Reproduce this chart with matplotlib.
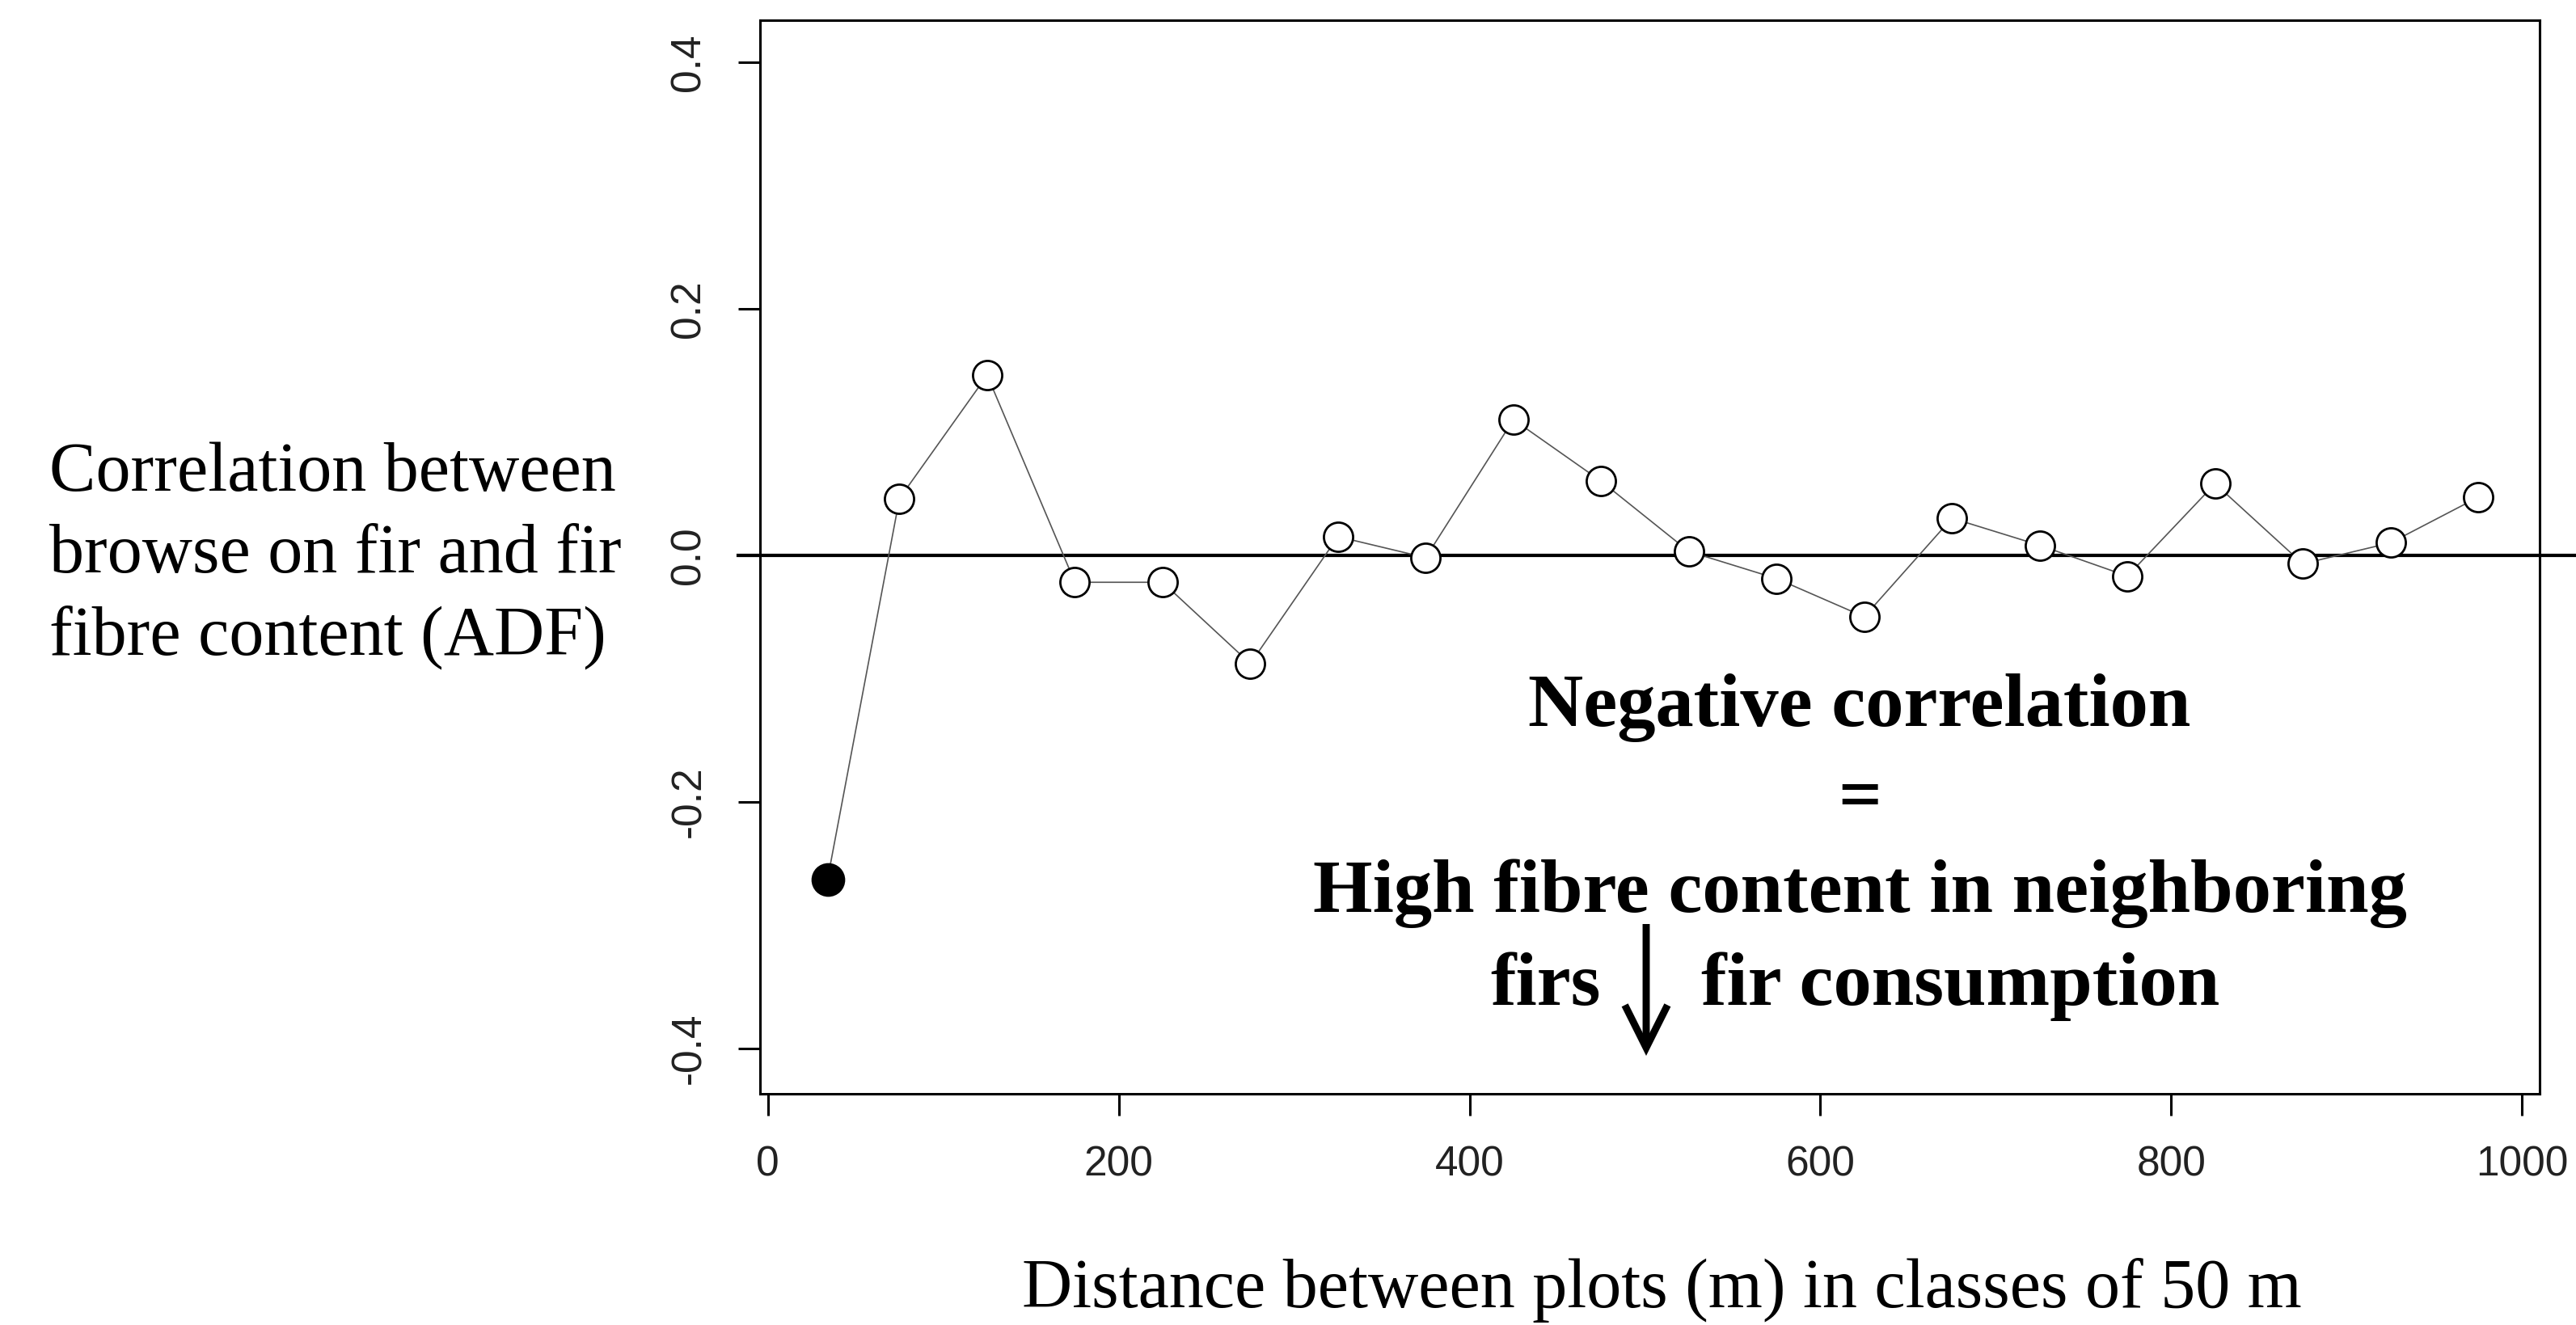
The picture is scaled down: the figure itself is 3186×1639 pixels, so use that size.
import numpy as np
import matplotlib.pyplot as plt
from matplotlib.patches import FancyArrowPatch
from matplotlib.ticker import FixedLocator, FixedFormatter

# distance class centres (m) and correlation per class
distance = [34, 75, 125, 175, 225, 275, 325, 375, 425, 475,
            525, 575, 625, 675, 725, 775, 825, 875, 925, 975]
correlation = [-0.263, 0.046, 0.146, -0.022, -0.022, -0.088, 0.015, -0.002, 0.110, 0.060,
               0.003, -0.019, -0.050, 0.030, 0.008, -0.017, 0.058, -0.007, 0.010, 0.047]
significant = [True] + [False] * 19

x_ticks = [0, 200, 400, 600, 800, 1000]
y_ticks = [-0.4, -0.2, 0.0, 0.2, 0.4]
y_tick_labels = ["-0.4", "-0.2", "0.0", "0.2", "0.4"]

ylabel_lines = ["Correlation between", "browse on fir and fir", "fibre content (ADF)"]
xlabel = "Distance between plots (m) in classes of 50 m"
note_lines = ["Negative correlation", "=", "High fibre content in neighboring"]


def main():
  plt.rcParams['axes.unicode_minus'] = False
  W, H, dpi = 3186, 1639, 200
  fig = plt.figure(figsize=(W / dpi, H / dpi), dpi=dpi)
  ax = fig.add_axes([940 / W, 1 - 1353 / H, 2201 / W, (1353 - 25) / H])

  x = np.array(distance)
  y = np.array(correlation)
  sig = np.array(significant)

  ax.plot(x, y, color="#555555", lw=0.6, zorder=2)
  ax.scatter(x[~sig], y[~sig], s=13 ** 2, facecolors="white", edgecolors="black",
             linewidths=1.0, zorder=3)
  ax.scatter(x[sig], y[sig], s=14 ** 2, facecolors="black", edgecolors="black",
             linewidths=1.0, zorder=3)

  # zero reference line, drawn a bit past the frame like the original
  ax.plot([-0.0123, 1.0205], [0, 0], color="black", lw=1.5,
          transform=ax.get_yaxis_transform(), clip_on=False, zorder=1)

  ax.set_xlim(-4.5, 1010)
  ax.set_ylim(-0.437, 0.434)

  ax.xaxis.set_major_locator(FixedLocator(x_ticks))
  ax.yaxis.set_major_locator(FixedLocator(y_ticks))
  ax.yaxis.set_major_formatter(FixedFormatter(y_tick_labels))
  tick_family = ["Liberation Sans", "DejaVu Sans"]
  for lab in ax.get_xticklabels() + ax.get_yticklabels():
    lab.set_fontfamily(tick_family)
    lab.set_fontsize(18.5)
    lab.set_color("#222222")
  for lab in ax.get_yticklabels():
    lab.set_rotation(90)
    lab.set_va("center")
  ax.tick_params(axis="both", direction="out", length=9.7, width=1.1, color="black", pad=13)

  for s in ax.spines.values():
    s.set_linewidth(1.1)
    s.set_color("black")

  serif = ["Liberation Serif", "DejaVu Serif"]

  # left-hand axis description
  for i, line in enumerate(ylabel_lines):
    fig.text(61 / W, 1 - (607 + 101 * i) / H, line, family=serif, size=31,
             ha="left", va="baseline")

  fig.text(2055 / W, 1 - 1617 / H, xlabel, family=serif, size=31,
           ha="center", va="baseline")

  # bold interpretation block
  for i, line in enumerate(note_lines):
    fig.text(2300 / W, 1 - (898 + 115 * i) / H, line, family=serif, size=34,
             weight="bold", ha="center", va="baseline")
  fig.text(1980 / W, 1 - 1243 / H, "firs", family=serif, size=34,
           weight="bold", ha="right", va="baseline")
  fig.text(2104 / W, 1 - 1243 / H, "fir consumption", family=serif, size=34,
           weight="bold", ha="left", va="baseline")
  fig.patches.append(FancyArrowPatch(
    (2036 / W, 1 - 1143 / H), (2036 / W, 1 - 1306 / H), transform=fig.transFigure,
    arrowstyle="->,head_length=1.9,head_width=0.95", lw=3.2, color="black",
    mutation_scale=10, shrinkA=0, shrinkB=0, capstyle="butt", joinstyle="miter"))

  fig.savefig("out.png", dpi=dpi, facecolor="white")


if __name__ == "__main__":
  main()
